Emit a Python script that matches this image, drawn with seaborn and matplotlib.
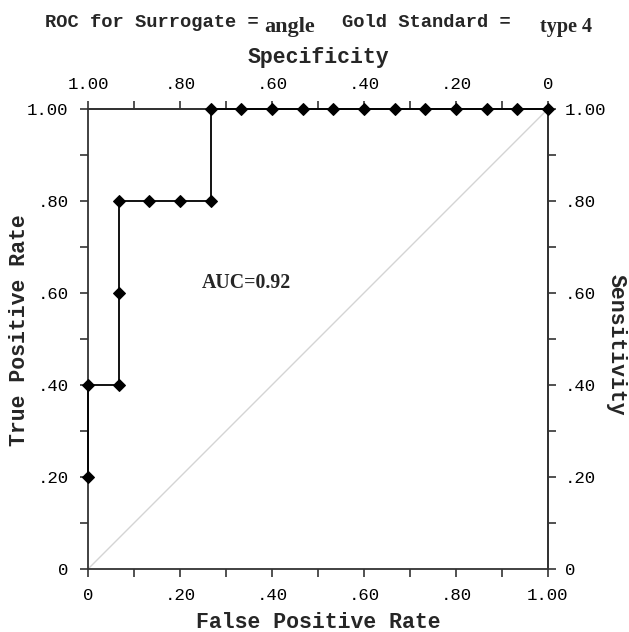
import numpy as np
import seaborn as sns
import matplotlib.pyplot as plt
from matplotlib.ticker import FixedLocator, FuncFormatter

# ROC points (15 negatives, 5 positives)
fpr = [0, 0, 1/15, 1/15, 1/15, 2/15, 3/15, 4/15, 4/15, 5/15, 6/15, 7/15,
       8/15, 9/15, 10/15, 11/15, 12/15, 13/15, 14/15, 1.0]
tpr = [0.2, 0.4, 0.4, 0.6, 0.8, 0.8, 0.8, 0.8, 1.0, 1.0, 1.0, 1.0,
       1.0, 1.0, 1.0, 1.0, 1.0, 1.0, 1.0, 1.0]
diag = [0, 1]
auc_label = "AUC=0.92"

mono = "Liberation Mono"
serif = "Liberation Serif"

sns.set_style("ticks")
plt.rcParams['font.family'] = [mono, 'DejaVu Sans']

fig = plt.figure(figsize=(6.29, 6.32), dpi=100)
ax = fig.add_axes([0.140, 0.0997, 0.731, 0.7278])

sns.lineplot(x=diag, y=diag, color="#d4d4d4", linewidth=1, ax=ax)
sns.lineplot(x=fpr, y=tpr, sort=False, estimator=None, color="black", linewidth=1.3,
             marker="D", markersize=6.5, markeredgecolor="black", ax=ax, clip_on=False, zorder=5)

ax.set_xlim(0, 1)
ax.set_ylim(0, 1)

def fmt(v, pos=None):
    v = round(v, 2)
    if round(v * 10) % 2:
        return ""
    if v == 0:
        return "0"
    if v == 1:
        return "1.00"
    return ("%.2f" % v)[1:]

ticks = np.linspace(0, 1, 11)
tick_kw = dict(direction="out", length=6, width=1.2, color="#333333", labelsize=12.5, labelcolor="black")

for axis in (ax.xaxis, ax.yaxis):
    axis.set_major_locator(FixedLocator(ticks))
    axis.set_major_formatter(FuncFormatter(fmt))

for s in ax.spines.values():
    s.set_visible(True)
    s.set_linewidth(1.3)
    s.set_color("#333333")

ax.tick_params(pad=8, **tick_kw)

top = ax.secondary_xaxis('top', functions=(lambda x: 1 - x, lambda x: 1 - x))
top.xaxis.set_major_locator(FixedLocator(ticks))
top.xaxis.set_major_formatter(FuncFormatter(fmt))
top.tick_params(pad=6, **tick_kw)
top.set_xlabel("Specificity", fontsize=15.5, fontweight="bold", labelpad=10)

right = ax.secondary_yaxis('right')
right.yaxis.set_major_locator(FixedLocator(ticks))
right.yaxis.set_major_formatter(FuncFormatter(fmt))
right.tick_params(pad=6, **tick_kw)
for s in list(top.spines.values()) + list(right.spines.values()):
    s.set_linewidth(1.3)
    s.set_color("#333333")

ax.set_xlabel("False Positive Rate", fontsize=15.5, fontweight="bold", labelpad=6)
fig.text(20 / 629, 1 - 330 / 632, "True Positive Rate", fontsize=15.5, fontweight="bold",
         rotation=90, ha="center", va="center")
fig.text(616 / 629, 1 - 345 / 632, "Sensitivity", fontsize=15.5, fontweight="bold",
         rotation=270, ha="center", va="center")

ax.text(0.248, 0.622, auc_label, fontsize=14.3, fontweight="bold", family=serif, ha="left", va="center")

# title made of pieces, like the original
fig.text(45 / 629, 1 - 27 / 632, "ROC for Surrogate =", fontsize=13.5, fontweight="bold", va="baseline")
fig.text(264 / 629, 1 - 32 / 632, "angle", fontsize=16, fontweight="bold", family=serif, va="baseline")
fig.text(342 / 629, 1 - 27 / 632, "Gold Standard =", fontsize=13.5, fontweight="bold", va="baseline")
fig.text(540 / 629, 1 - 32 / 632, "type 4", fontsize=14.5, fontweight="bold", family=serif, va="baseline")

fig.savefig("out.png", dpi=100)
